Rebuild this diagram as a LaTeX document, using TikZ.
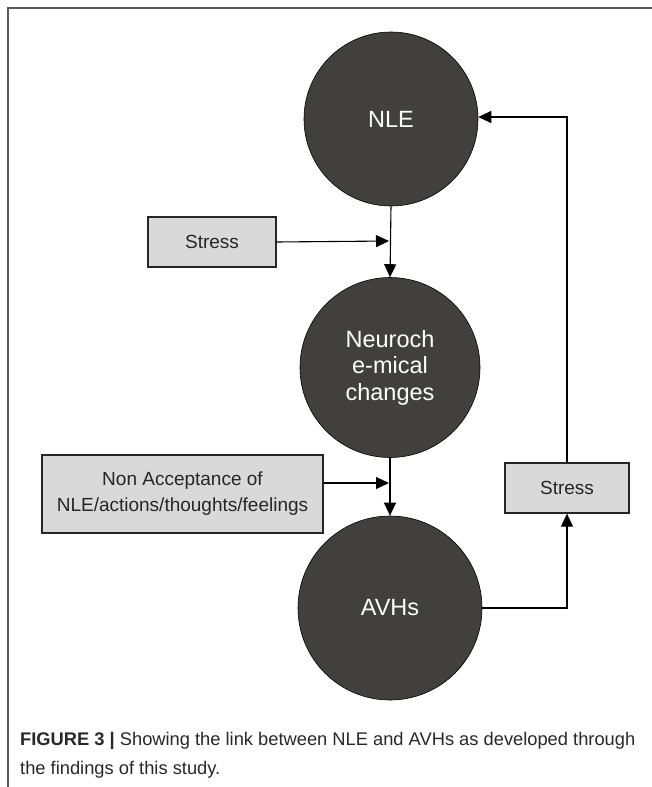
\documentclass[tikz,border=0pt]{standalone}
\usepackage{fontspec}
\setmainfont{Liberation Sans}
\usetikzlibrary{arrows.meta}
\definecolor{circfill}{RGB}{66,64,63}
\definecolor{boxfill}{RGB}{217,217,217}
\definecolor{framegray}{RGB}{90,90,90}
\definecolor{captext}{RGB}{40,40,40}
\tikzset{
  bubble/.style={circle, fill=circfill, draw=black, line width=0.6pt, inner sep=0pt, text=white, align=center, font=\fontsize{23.5}{26.5}\selectfont},
  graybox/.style={rectangle, fill=boxfill, draw=black!85, line width=1.3pt, inner sep=0pt, align=center, text=black!85, font=\fontsize{19}{26}\selectfont},
  conn/.style={draw=black, line width=1.1pt},
  arr/.style={conn, -{Triangle[length=13pt,width=12pt]}},
  captxt/.style={anchor=base west, inner sep=0pt, text=captext, font=\fontsize{18.3}{29}\selectfont}
}
\begin{document}
\begin{tikzpicture}[x=1pt,y=-1pt]
\useasboundingbox (0,0) rectangle (652,787);
\fill[white] (0,0) rectangle (652,787);
\draw[framegray, line width=2pt] (8,787) -- (8,8) -- (652,8);

\node[bubble, minimum size=174pt] (nle) at (391,119) {NLE};
\node[bubble, minimum size=180pt] (neuro) at (390,367.5) {Neuroch\\e-mical\\changes};
\node[bubble, minimum size=184pt] (avh) at (390,608) {AVHs};

\node[graybox, minimum width=128pt, minimum height=50pt] (s1) at (212,242) {Stress};
\node[graybox, minimum width=281pt, minimum height=78pt] (na) at (182.5,494) {Non Acceptance of\\NLE/actions/thoughts/feelings};
\node[graybox, minimum width=124pt, minimum height=50pt] (s2) at (567,488) {Stress};

\coordinate (m1) at (389,241);
\coordinate (m2) at (389,483);
\coordinate (c1) at (567,608);
\coordinate (c2) at (567,117);

\draw[arr] (nle.south) -- (neuro.north);
\draw[arr] (neuro.south) -- (avh.north);
\draw[arr] (s1.east) -- (m1);
\draw[arr] (na.east |- m2) -- (m2);
\draw[arr] (avh.east) -- (c1) -- (s2.south);
\draw[arr] (s2.north) -- (c2) -- (nle.east |- c2);

\node[captxt] (cap1) at (20,745) {\textbf{FIGURE 3 |} Showing the link between NLE and AVHs as developed through};
\node[captxt] (cap2) at (20,774) {the findings of this study.};
\end{tikzpicture}
\end{document}
